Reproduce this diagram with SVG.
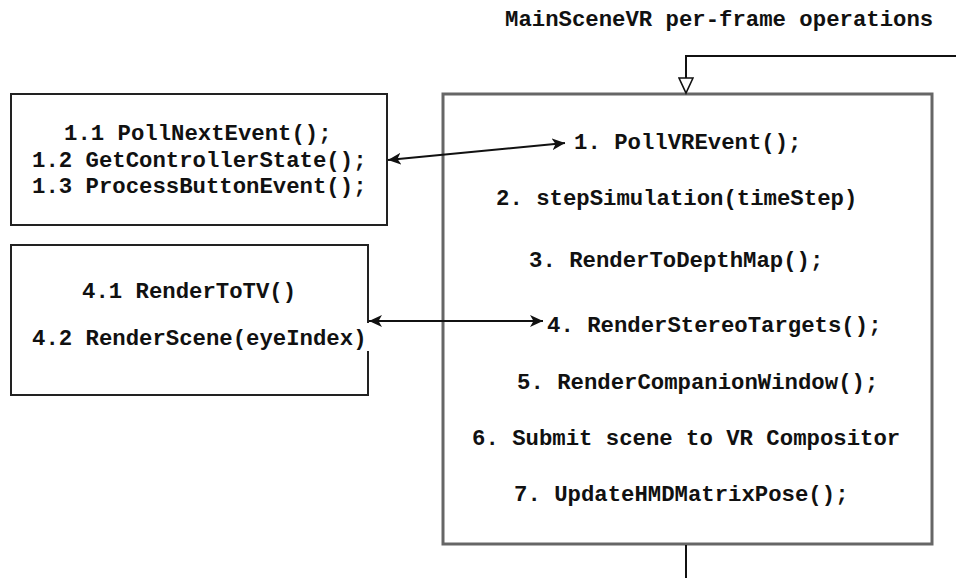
<svg xmlns="http://www.w3.org/2000/svg" width="956" height="578" viewBox="0 0 956 578">
<style>
text{font-family:"Liberation Mono","Courier New",monospace;font-weight:bold;font-size:22.3px;fill:#111;}
.box{fill:#fff;stroke:#222;stroke-width:2;}
.main{fill:#fff;stroke:#666;stroke-width:3;}
.conn{fill:none;stroke:#111;stroke-width:2;}
</style>
<defs>
<marker id="arr" markerUnits="userSpaceOnUse" markerWidth="14" markerHeight="12" refX="13" refY="6" orient="auto-start-reverse">
<path d="M0,0 L13,6 L0,12 L3.5,6 Z" fill="#111"/>
</marker>
<marker id="tri" markerUnits="userSpaceOnUse" markerWidth="18" markerHeight="16" refX="16" refY="8" orient="auto">
<path d="M1,1 L16,8 L1,15 Z" fill="#fff" stroke="#111" stroke-width="1.6"/>
</marker>
</defs>
<rect width="956" height="578" fill="#fff"/>
<text x="505" y="26">MainSceneVR per-frame operations</text>
<g id="main-node">
<rect class="main" x="443" y="94" width="489" height="450"/>
<text x="574" y="149">1. PollVREvent();</text>
<text x="496" y="205">2. stepSimulation(timeStep)</text>
<text x="529" y="267">3. RenderToDepthMap();</text>
<text x="547" y="332">4. RenderStereoTargets();</text>
<text x="517" y="389">5. RenderCompanionWindow();</text>
<text x="472" y="445">6. Submit scene to VR Compositor</text>
<text x="514" y="501">7. UpdateHMDMatrixPose();</text>
</g>
<g id="events-node">
<rect class="box" x="11" y="94" width="376" height="131"/>
<text x="64" y="140">1.1 PollNextEvent();</text>
<text x="32" y="167">1.2 GetControllerState();</text>
<text x="32" y="193">1.3 ProcessButtonEvent();</text>
</g>
<g id="render-node">
<rect class="box" x="11" y="245" width="357" height="150"/>
<text x="82" y="298">4.1 RenderToTV()</text>
<rect x="28" y="323" width="343" height="28" fill="#fff"/>
<text x="32" y="345">4.2 RenderScene(eyeIndex)</text>
</g>
<g id="connectors">
<path class="conn" d="M956,56 H686 V93" marker-end="url(#tri)"/>
<path class="conn" d="M686,545 V578"/>
<path class="conn" d="M388,160 L565,143" marker-start="url(#arr)" marker-end="url(#arr)"/>
<path class="conn" d="M369,321 L543,321" marker-start="url(#arr)" marker-end="url(#arr)"/>
</g>
</svg>
